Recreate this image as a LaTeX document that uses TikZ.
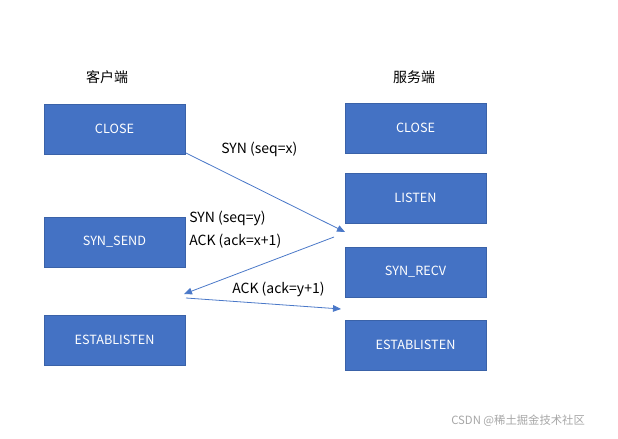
\documentclass[tikz,border=0pt]{standalone}
\usepackage{fontspec}
\setmainfont{Noto Sans CJK SC}
\usetikzlibrary{arrows.meta}
\definecolor{boxc}{HTML}{4472C4}
\definecolor{boxe}{HTML}{3A62A8}
\definecolor{arr}{HTML}{4A78C8}
\begin{document}
\begin{tikzpicture}[x=0.75pt,y=-0.75pt,
  st/.style={draw=boxe,fill=boxc,text=white,minimum width=141*0.75pt,minimum height=50*0.75pt,inner sep=0pt,font=\fontsize{9.5}{11}\selectfont,line width=0.6pt},
  lb/.style={font=\fontsize{10.5}{12}\selectfont,inner sep=0pt},
  ar/.style={draw=arr,line width=0.6pt,-{Triangle[length=6pt,width=5pt]}}]
\useasboundingbox (0,0) rectangle (618,439);
\node[lb] (ch) at (107,77) {客户端};
\node[lb] (sh) at (414,77) {服务端};
\node[st] (l1) at (114.5,129) {CLOSE};
\node[st] (l2) at (114.5,242) {SYN\_SEND};
\node[st] (l3) at (114.5,340) {ESTABLISTEN};
\node[st] (r1) at (415.5,128) {CLOSE};
\node[st] (r2) at (415.5,198) {LISTEN};
\node[st] (r3) at (415.5,272) {SYN\_RECV};
\node[st] (r4) at (415.5,345) {ESTABLISTEN};
\coordinate (a1) at (186,153);
\coordinate (a2) at (345,232);
\coordinate (b1) at (334,237);
\coordinate (b2) at (184,294);
\coordinate (c1) at (186,298);
\coordinate (c2) at (341,309);
\draw[ar] (a1) -- (a2);
\draw[ar] (b1) -- (b2);
\draw[ar] (c1) -- (c2);
\node[lb,anchor=west] (t1) at (221,149) {SYN (seq=x)};
\node[lb,anchor=west] (t2) at (189,218) {SYN (seq=y)};
\node[lb,anchor=west] (t3) at (189,241) {ACK (ack=x+1)};
\node[lb,anchor=west] (t4) at (232,289) {ACK (ack=y+1)};
\node[anchor=west,text=gray!70,font=\fontsize{8.5}{10}\selectfont,inner sep=0pt] (wm) at (451,421) {CSDN @稀土掘金技术社区};
\end{tikzpicture}
\end{document}
